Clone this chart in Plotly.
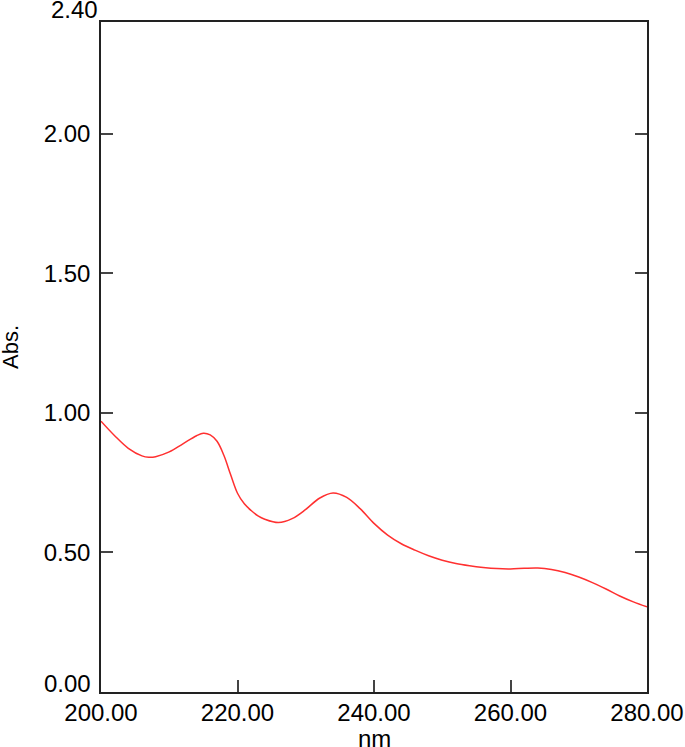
import plotly.graph_objects as go

wavelength = [200, 202, 204, 206, 207, 208, 210, 212, 214, 215, 216, 217, 218, 219, 220,
              221, 222, 223, 224, 226, 228, 230, 232, 234, 236, 238, 240, 242, 244, 246, 248,
              250, 252, 254, 256, 258, 260, 262, 264, 266, 268, 270, 272, 274, 276, 278, 280]
absorbance = [0.970, 0.918, 0.873, 0.846, 0.841, 0.843, 0.860, 0.889, 0.918, 0.927, 0.921,
              0.898, 0.848, 0.778, 0.712, 0.674, 0.650, 0.631, 0.619, 0.607, 0.621, 0.654,
              0.694, 0.713, 0.697, 0.656, 0.604, 0.562, 0.531, 0.508, 0.488, 0.472, 0.460,
              0.452, 0.446, 0.442, 0.441, 0.443, 0.444, 0.439, 0.428, 0.412, 0.392, 0.369,
              0.344, 0.323, 0.305]

x_ticks = [200, 220, 240, 260, 280]
x_ticktext = ["200.00", "220.00", "240.00", "260.00", "280.00"]
y_ticks = [0, 0.5, 1.0, 1.5, 2.0, 2.4]
y_ticktext = ["", "0.50", "1.00", "1.50", "2.00", ""]
y_edge_vals = [0, 2.4]
y_edge_text = ["0.00", "2.40"]

FONT = "Liberation Sans, Arial, sans-serif"

fig = go.Figure()
fig.add_trace(go.Scatter(x=wavelength, y=absorbance, mode="lines",
                         line=dict(color="#ff3030", width=1.5, shape="spline", smoothing=1.0),
                         hoverinfo="skip", showlegend=False))

fig.update_layout(
    width=685, height=747,
    margin=dict(l=101, r=38, t=22, b=55, autoexpand=False),
    paper_bgcolor="white", plot_bgcolor="white",
    font=dict(family=FONT, size=24, color="black"),
    xaxis=dict(range=[200, 280], tickvals=x_ticks, ticktext=x_ticktext,
               ticks="inside", ticklen=12, tickwidth=1.5, tickcolor="#444",
               showline=True, linecolor="#222", linewidth=1.5, mirror=True,
               showgrid=False, zeroline=False, ticklabelstandoff=-2, automargin=False,
               tickfont=dict(size=24, family=FONT, color="black")),
    yaxis=dict(range=[0, 2.4], tickvals=y_ticks, ticktext=y_ticktext,
               ticks="inside", ticklen=12, tickwidth=1.5, tickcolor="#444",
               showline=True, linecolor="#222", linewidth=1.5, mirror="ticks",
               showgrid=False, zeroline=False, ticklabelstandoff=4, automargin=False,
               tickfont=dict(size=24, family=FONT, color="black")),
)

# edge tick labels (offset like the reference)
fig.add_annotation(x=0, xref="paper", xanchor="right", xshift=-8,
                   y=y_edge_vals[0], yref="y", yanchor="bottom", yshift=-7,
                   text=y_edge_text[0], showarrow=False, font=dict(size=24, family=FONT))
fig.add_annotation(x=0, xref="paper", xanchor="right", xshift=-1,
                   y=y_edge_vals[1], yref="y", yanchor="bottom", yshift=-3,
                   text=y_edge_text[1], showarrow=False, font=dict(size=24, family=FONT))

# axis titles
fig.add_annotation(x=0.5, xref="paper", y=0, yref="paper", yanchor="top", yshift=-31,
                   text="nm", showarrow=False, font=dict(size=24, family=FONT))
fig.add_annotation(x=0, xref="paper", xanchor="center", xshift=-90,
                   y=0.515, yref="paper", yanchor="middle",
                   text="Abs.", textangle=-90, showarrow=False, font=dict(size=22, family=FONT))

fig.write_html("out.html", config={"displayModeBar": False},
               post_script="document.body.style.margin='0';document.body.style.overflow='hidden';")
